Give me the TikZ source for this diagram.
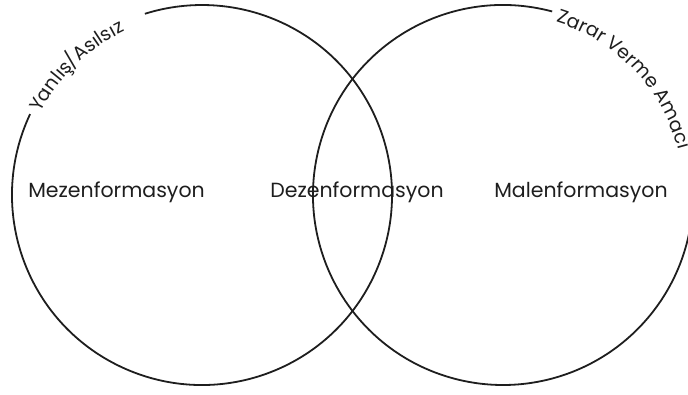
\documentclass[tikz,border=0pt]{standalone}
\usepackage{fontspec}
\setmainfont{Poppins}
\usetikzlibrary{decorations.text}
\definecolor{ink}{HTML}{1E1E1E}
\tikzset{
  circ/.style={draw=ink, line width=1.8pt},
  lbl/.style={anchor=base, text=ink, font=\fontsize{20.5}{20.5}\selectfont, inner sep=0pt},
}
\begin{document}
\begin{tikzpicture}[x=1pt,y=1pt]
\useasboundingbox (0,0) rectangle (688,394);
\coordinate (L) at (202,199);
\coordinate (R) at (503,199);
\draw[circ] ([shift={(154.8:190)}]L) arc[start angle=154.8, end angle=467.5, radius=190];
\draw[circ] ([shift={(75:190)}]R) arc[start angle=75, end angle=355, radius=190];
\path[decorate, decoration={text along path, text align=left,
  text={|\fontsize{19}{19}\selectfont\color{ink}|Yanlış/Asılsız}}]
  ([shift={(153:181)}]L) arc[start angle=153, end angle=95, radius=181];
\path[decorate, decoration={text along path, text align=left,
  text={|\fontsize{19}{19}\selectfont\color{ink}|Zarar Verme Amacı}}]
  ([shift={(73:181)}]R) arc[start angle=73, end angle=-15, radius=181];
\node[lbl] (mez) at (116.5,196) {Mezenformasyon};
\node[lbl] (dez) at (357,196) {Dezenformasyon};
\node[lbl] (mal) at (581,196) {Malenformasyon};
\end{tikzpicture}
\end{document}
